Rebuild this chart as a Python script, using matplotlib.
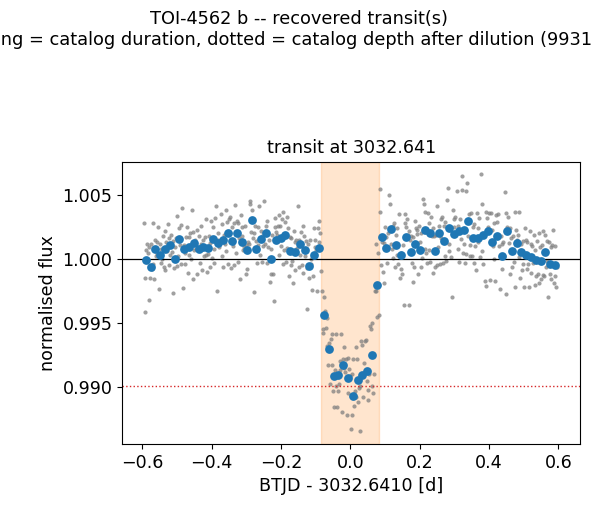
import numpy as np
import matplotlib
matplotlib.use("Agg")
from matplotlib import pyplot as plt
from matplotlib.ticker import MultipleLocator

t0 = 3032.641
depth_ppm = 9931
duration_d = 4.0 / 24.0
cadence_d = 200.0 / 86400.0
bin_d = 20.0 / 1440.0

# binned flux (ppm from 1), one value per 20-min bin
binned_ppm = [
    -80, -630, 760, 300, 740, 1100, 0, 1550, 760, 900,
    1220, 780, 900, 830, 1550, 1250, 1480, 2000, 1400, 2000,
    1300, 700, 3050, 780, 1550, 2000, 0, 1500, 1670, 1880,
    630, 520, 1170, 700, -520, 300, 880, -4370, -7060, -9120,
    -9040, -8300, -9320, -10680, -9450, -9060, -8730, -7520, -2030, 1700,
    830, 2330, 1070, 280, 1700, 560, 1200, 700, 2270, 2000,
    650, 2000, 1430, 2400, 1950, 2190, 2270, 2970, 1620, 1620,
    1880, 2190, 1350, 1820, 230, 2190, 630, 1220, 570, 300,
    130, -80, -130, 570, -410, -470,
]

# raw 200-s flux (ppm from 1), six cadences per bin
raw_ppm = [
    2800, -1480, -4140, 700, 1200, 440,
    -3180, 900, -1500, 1200, -800, -400,
    2800, -1600, 1500, 200, 1300, 360,
    2470, -2350, 1200, -300, 800, 0,
    1800, -600, 2200, -900, 1300, 640,
    2730, -500, 1600, 300, 1900, 570,
    -2650, 1400, -700, 900, 1600, -550,
    3330, 200, 2400, 1100, -400, 2670,
    3980, -2300, 1100, 500, -400, 1680,
    2500, -1100, 1700, 300, 2000, 0,
    3850, -1600, 2100, 700, 1500, 770,
    -1200, 2300, 900, 1800, -300, 1180,
    2600, -900, 1500, 200, 1700, 300,
    3120, -1000, 400, 1800, -600, 1260,
    3000, 100, 2500, 800, -300, 3200,
    4160, -2470, 2000, 1500, 900, 1410,
    3500, 200, 2700, -600, 1900, 1180,
    3800, 600, 2900, -400, 3100, 2000,
    3300, -700, 2500, 1000, -500, 2800,
    4240, 500, 3000, -200, 2800, 1660,
    -1560, 3400, 1800, 2500, 700, 960,
    2600, -1200, 1100, -800, 1300, 1200,
    4500, 4300, 2100, 3800, 1600, 2000,
    -2580, 2600, 1400, -300, 2500, 1060,
    4160, 300, 2200, -200, 1800, 1040,
    4550, 1200, 2600, -300, 3000, 950,
    1500, -1800, 800, -1200, 1900, -1200,
    -3250, 3200, 2500, 2100, 1900, 2550,
    3400, 300, 2600, 1000, 3100, -400,
    3700, 700, 2900, -200, 3300, 880,
    2400, -1300, 1700, -500, 1600, -120,
    -1870, 2200, 1300, -900, 1500, 890,
    4160, -600, 1500, 300, 2100, -440,
    2600, -1100, 1800, 200, 1400, -700,
    -3900, 1200, -1500, 1500, -400, -20,
    -2400, -1300, 2400, 900, 1500, 700,
    -2470, 2400, 1300, 3000, 2000, -950,
    -2470, -5470, -5780, -3000, -4100, -5400,
    -4610, -6820, -8300, -6560, -9800, -6270,
    -5860, -8300, -10300, -11600, -8700, -9960,
    -5860, -11600, -10300, -9800, -8000, -8680,
    -5860, -11950, -7800, -8500, -6900, -8790,
    -7800, -12200, -10500, -7700, -8600, -9120,
    -13300, -12200, -8960, -7800, -11500, -10320,
    -6880, -10800, -7800, -11200, -10100, -9920,
    -13440, -6400, -6700, -10800, -8900, -8120,
    -6400, -6300, -9500, -11000, -10200, -8980,
    -5200, -5500, -5000, -9900, -10500, -9020,
    -2530, -2470, 1200, -4500, 500, -4380,
    5470, 3650, -500, 1300, -1000, 1280,
    -1870, 2500, 1700, -300, 2000, 950,
    5030, 4300, 1200, 800, 2600, 50,
    2800, -600, 1900, 300, 2400, -380,
    3540, -1480, -800, 500, -1200, 1120,
    -3560, 3500, 2800, 2500, 3100, 1860,
    -3570, 2200, 1500, 1800, -300, 1730,
    -1800, -650, 3000, 2400, 2300, 1950,
    -1170, 2600, 1300, -600, 2000, 70,
    4700, 4300, 3670, 800, 500, -350,
    3600, 700, 2800, -200, 3300, 1800,
    2400, -1100, 1800, -600, 1900, -500,
    4170, 900, 2600, -400, 3100, 1630,
    3300, -300, 2600, 200, 2900, -120,
    4630, 5550, 1200, 600, 2300, 120,
    -2970, 3800, 3100, 2500, 3300, 1970,
    5300, 800, 2600, -200, 3100, 1540,
    6500, 5360, 500, 1200, -300, 360,
    5300, 5900, 1800, 3500, 1100, 220,
    3600, 200, 2500, -300, 2700, 1020,
    -900, 3600, 2400, 1300, 3200, 120,
    6670, 4300, 600, -400, 1800, -1690,
    -2140, 3700, 3200, 2500, 3600, 2280,
    -1620, 3600, 2300, 1000, 2800, 20,
    -1700, 3400, 2900, 1800, 3500, 1020,
    -2350, 1800, 1200, -800, 1300, 230,
    5230, -2730, 3600, 2500, 3300, 1240,
    2400, -1200, 1600, -600, 1800, -220,
    3650, -2200, 2300, 1500, 1900, 170,
    3650, -1500, 1200, -900, 1400, -430,
    -2200, 2400, 1500, -800, 1300, -400,
    -2200, 2200, 1200, -1100, 1000, -320,
    1900, -2000, 700, -1300, 1400, -1180,
    2000, -1900, 900, -1600, 1100, -1280,
    2200, -1300, 1900, -600, 1400, -180,
    -2970, 1300, -1200, 900, -1600, 1110,
    2240, -1900, -1300, 1000, -2200, -660,
]

raw_flux = 1 + np.array(raw_ppm) * 1e-6
raw_t = -0.597 + (np.arange(len(raw_flux)) + 0.5) * cadence_d
bin_flux = 1 + np.array(binned_ppm) * 1e-6
bin_t = -0.597 + (np.arange(len(bin_flux)) + 0.5) * bin_d

fs = 12.6

fig = plt.figure(figsize=(5.98, 5.2), dpi=100)
ax = fig.add_axes([0.2045, 0.1462, 0.7654, 0.5429])

ax.axvspan(-duration_d / 2, duration_d / 2, color="C1", alpha=0.2)
ax.plot(raw_t, raw_flux, "o", color="grey", alpha=0.75, ms=3, mew=0)
ax.axhline(1.0, color="black", lw=0.9)
ax.axhline(1 - depth_ppm * 1e-6, color="C3", ls=":", lw=1)
ax.plot(bin_t, bin_flux, "o", color="C0", ms=6.3, mew=0)

ax.set_xlim(-0.6576, 0.6625)
ax.set_ylim(0.98555, 1.0076)
ax.yaxis.set_major_locator(MultipleLocator(0.005))
ax.tick_params(labelsize=fs)
ax.set_title(f"transit at {t0:.3f}", fontsize=fs)
ax.set_xlabel(f"BTJD - {t0:.4f} [d]", fontsize=fs)
ax.set_ylabel("normalised flux", fontsize=fs)
fig.suptitle("TOI-4562 b -- recovered transit(s)\n"
             f"shading = catalog duration, dotted = catalog depth after dilution ({depth_ppm} ppm)",
             fontsize=12.8)

fig.savefig("out.png", dpi=100)
